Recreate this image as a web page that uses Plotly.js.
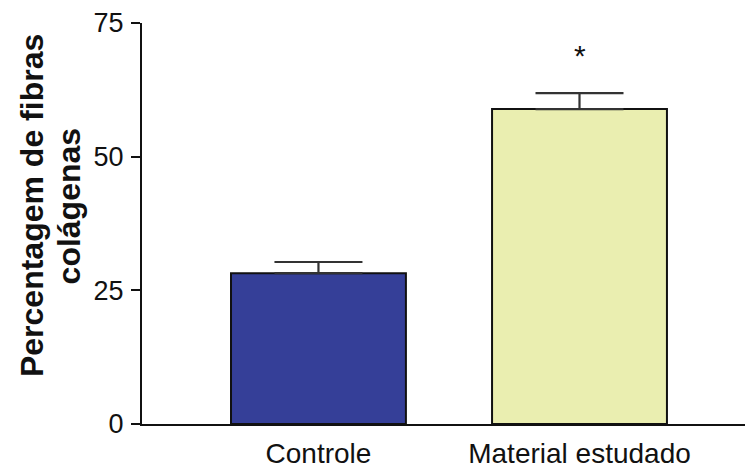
<!DOCTYPE html>
<html>
<head>
<meta charset="utf-8">
<script src="https://cdn.plot.ly/plotly-3.0.1.min.js"></script>
<style>html,body{margin:0;padding:0;background:#fff;}#chart{width:745px;height:469px;}</style>
</head>
<body>
<div id="chart"></div>
<script>
const categories = ["Controle", "Material estudado"];
const values = [28.2, 58.9];
const errors = [2.1, 3.0];
const barColors = ["#353F98", "#EAEEB0"];
const yTicks = [0, 25, 50, 75];
const sigMarks = ["", "*"];
const sigY = [null, 69];
const yTitleLines = ["Percentagem de fibras", "colágenas"];

const FONT = "Liberation Sans, Arial, Helvetica, sans-serif";

const trace = {
  type: "bar",
  x: categories,
  y: values,
  width: 0.67,
  marker: {color: barColors, line: {color: "#111", width: 2}},
  error_y: {type: "data", array: errors, symmetric: false, arrayminus: [0, 0], color: "#333", thickness: 2.2, width: 44},
  hoverinfo: "none"
};

const annotations = [];
categories.forEach((c, i) => {
  if (sigMarks[i]) {
    annotations.push({x: c, y: sigY[i], xref: "x", yref: "y", text: sigMarks[i], showarrow: false,
      font: {family: FONT, size: 30, color: "#111"}});
  }
});
const titleX = [-0.1824, -0.1204];
yTitleLines.forEach((t, i) => {
  annotations.push({
    xref: "paper", yref: "paper", x: titleX[i], y: 0.5436, xanchor: "center", yanchor: "middle",
    text: "<b>" + t + "</b>", showarrow: false, textangle: -90,
    font: {family: FONT, size: 32, color: "#111"}
  });
});

const layout = {
  width: 745, height: 469,
  margin: {l: 142, r: 0, t: 23, b: 45, pad: 0},
  paper_bgcolor: "#fff", plot_bgcolor: "#fff",
  showlegend: false,
  font: {family: FONT, color: "#111"},
  xaxis: {
    range: [-0.676, 1.634], showline: true, linecolor: "#111", linewidth: 2,
    ticks: "", showgrid: false, zeroline: false,
    tickfont: {size: 28, color: "#111"}, ticklabelstandoff: 3
  },
  yaxis: {
    range: [0, 75], tickvals: yTicks, ticktext: yTicks.map(String),
    showline: true, linecolor: "#111", linewidth: 2,
    ticks: "outside", ticklen: 9, tickwidth: 2, tickcolor: "#111",
    showgrid: false, zeroline: false, tickfont: {size: 27, color: "#111"},
    ticklabelstandoff: 2
  },
  annotations: annotations
};

Plotly.newPlot("chart", [trace], layout, {displayModeBar: false, staticPlot: true});
</script>
</body>
</html>
